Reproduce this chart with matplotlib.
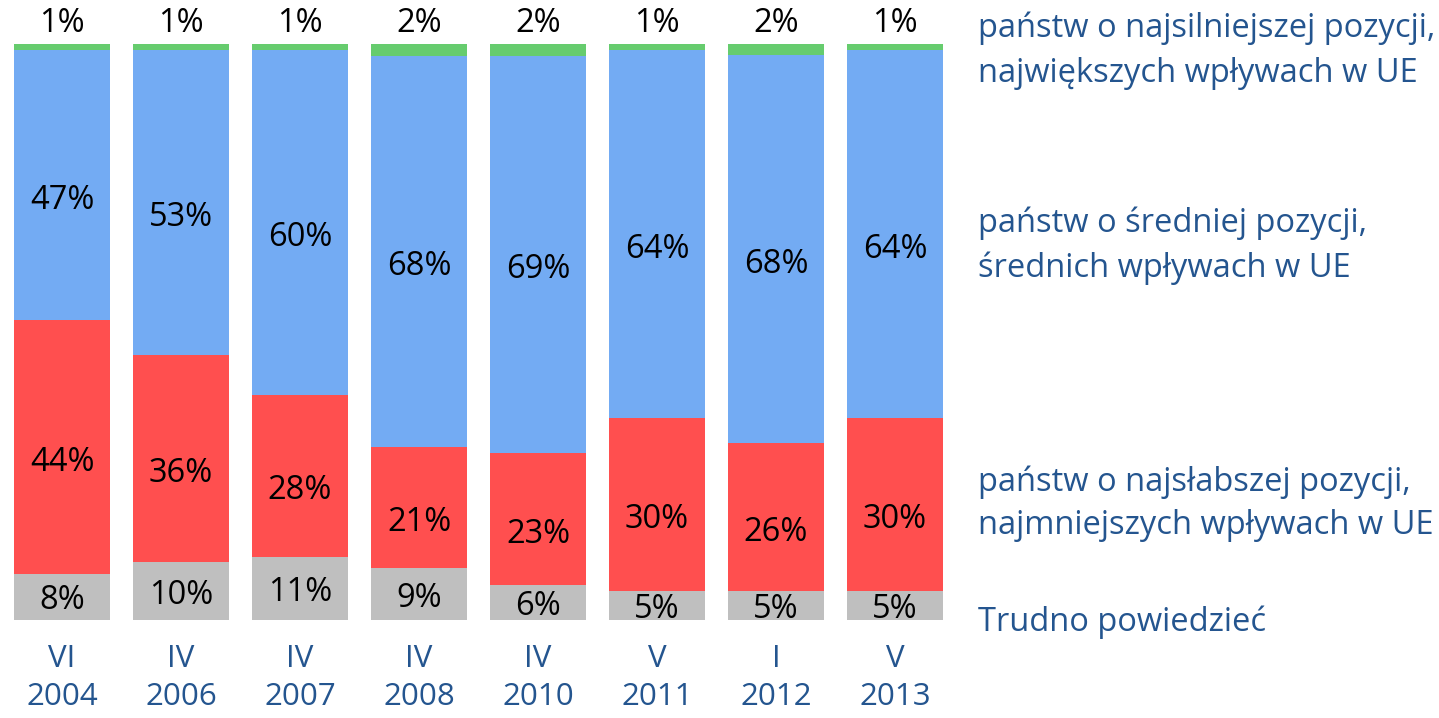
import matplotlib.pyplot as plt
import matplotlib.transforms as mtransforms
import numpy as np

plt.rcParams['font.family'] = ['Open Sans', 'DejaVu Sans']

# okresy badania (miesiąc / rok)
months = ["VI", "IV", "IV", "IV", "IV", "V", "I", "V"]
years = ["2004", "2006", "2007", "2008", "2010", "2011", "2012", "2013"]

# odpowiedzi w %
trudno = [8, 10, 11, 9, 6, 5, 5, 5]
najslabsze = [44, 36, 28, 21, 23, 30, 26, 30]
srednie = [47, 53, 60, 68, 69, 64, 68, 64]
najsilniejsze = [1, 1, 1, 2, 2, 1, 2, 1]

labels = [
    ("Trudno powiedzieć",),
    ("państw o najsłabszej pozycji,", "najmniejszych wpływach w UE"),
    ("państw o średniej pozycji,", "średnich wpływach w UE"),
    ("państw o najsilniejszej pozycji,", "największych wpływach w UE"),
]
colors = ["#BFBFBF", "#FF4F4F", "#73ABF3", "#66CC6E"]
text_blue = "#24558F"

series = np.array([trudno, najslabsze, srednie, najsilniejsze], dtype=float)
totals = series.sum(axis=0)
shares = series / totals * 100  # wykres 100% skumulowany

W, H = 1439, 718
fig = plt.figure(figsize=(W / 100, H / 100), dpi=100)
ax = fig.add_axes([14 / W, (H - 620) / H, (943 - 14) / W, (620 - 44) / H])

x = np.arange(len(years))
width = 0.807
bottom = np.zeros(len(years))
for i in range(4):
    ax.bar(x, shares[i], width, bottom=bottom, color=colors[i], linewidth=0)
    for j in range(len(years)):
        val = int(series[i, j])
        if i == 3:
            ax.text(x[j], 103.6, f"{val}%", ha="center", va="center",
                    fontsize=23.5, color="black", clip_on=False)
        else:
            mid = bottom[j] + shares[i, j] / 2
            off = -0.7 if i == 0 else -2.6
            ax.text(x[j], mid + off, f"{val}%", ha="center", va="center",
                    fontsize=23.5, color="black")
    bottom += shares[i]

ax.set_xlim(-width / 2, len(years) - 1 + width / 2)
ax.set_ylim(0, 100)
ax.axis("off")

# podpisy okresów pod słupkami
trans = mtransforms.blended_transform_factory(ax.transData, fig.transFigure)
for j in range(len(years)):
    ax.text(x[j], 1 - 659 / H, months[j], transform=trans, ha="center",
            va="center", fontsize=22.5, color=text_blue)
    ax.text(x[j], 1 - 697 / H, years[j], transform=trans, ha="center",
            va="center", fontsize=22.5, color=text_blue)

# legenda po prawej
legend_y = [[622], [482, 526], [223, 268], [28, 73]]
for lab, ys in zip(labels, legend_y):
    for line, yy in zip(lab, ys):
        fig.text(978 / W, 1 - yy / H, line, ha="left", va="center",
                 fontsize=23.5, color=text_blue)

fig.savefig("out.png", dpi=100)
